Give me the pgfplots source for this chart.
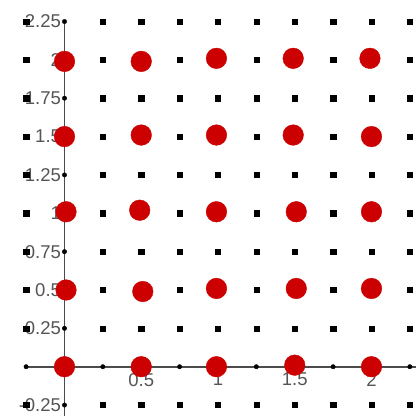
\documentclass[border=0pt]{standalone}
\usepackage{pgfplots}
\pgfplotsset{compat=1.18}
\usepackage{fontspec}
\setmainfont{Liberation Sans}
\definecolor{dotred}{RGB}{204,0,0}
\definecolor{axgray}{RGB}{75,75,75}
\definecolor{labgray}{RGB}{85,85,85}
\begin{document}
\begin{tikzpicture}
\begin{axis}[
  name=ax,
  scale only axis,
  width=389.6pt, height=394pt,
  xmin=-0.25, xmax=2.29,
  ymin=-0.32, ymax=2.25,
  clip=false,
  axis lines=middle,
  axis line style={-, axgray, line width=1.6pt},
  xtick={0.5,1,1.5,2},
  xticklabels={0.5,1,1.5,2},
  ytick={-0.25,0.25,0.5,0.75,1,1.25,1.5,1.75,2,2.25},
  yticklabels={-0.25,0.25,0.5,0.75,1,1.25,1.5,1.75,2,2.25},
  major tick length=0pt,
  tick label style={font=\fontsize{18.5}{20}\selectfont, text=labgray},
  xticklabel style={yshift=-3pt},
]
% grid dots off the axes
\addplot[only marks, mark=square*, mark size=2.6pt, black] coordinates {
(-0.25,-0.25)(0.25,-0.25)(0.5,-0.25)(0.75,-0.25)(1,-0.25)(1.25,-0.25)(1.5,-0.25)(1.75,-0.25)(2,-0.25)(2.25,-0.25)
(-0.25,0.25)(0.25,0.25)(0.5,0.25)(0.75,0.25)(1,0.25)(1.25,0.25)(1.5,0.25)(1.75,0.25)(2,0.25)(2.25,0.25)
(-0.25,0.5)(0.25,0.5)(0.5,0.5)(0.75,0.5)(1,0.5)(1.25,0.5)(1.5,0.5)(1.75,0.5)(2,0.5)(2.25,0.5)
(-0.25,0.75)(0.25,0.75)(0.5,0.75)(0.75,0.75)(1,0.75)(1.25,0.75)(1.5,0.75)(1.75,0.75)(2,0.75)(2.25,0.75)
(-0.25,1)(0.25,1)(0.5,1)(0.75,1)(1,1)(1.25,1)(1.5,1)(1.75,1)(2,1)(2.25,1)
(-0.25,1.25)(0.25,1.25)(0.5,1.25)(0.75,1.25)(1,1.25)(1.25,1.25)(1.5,1.25)(1.75,1.25)(2,1.25)(2.25,1.25)
(-0.25,1.5)(0.25,1.5)(0.5,1.5)(0.75,1.5)(1,1.5)(1.25,1.5)(1.5,1.5)(1.75,1.5)(2,1.5)(2.25,1.5)
(-0.25,1.75)(0.25,1.75)(0.5,1.75)(0.75,1.75)(1,1.75)(1.25,1.75)(1.5,1.75)(1.75,1.75)(2,1.75)(2.25,1.75)
(-0.25,2)(0.25,2)(0.5,2)(0.75,2)(1,2)(1.25,2)(1.5,2)(1.75,2)(2,2)(2.25,2)
(-0.25,2.25)(0.25,2.25)(0.5,2.25)(0.75,2.25)(1,2.25)(1.25,2.25)(1.5,2.25)(1.75,2.25)(2,2.25)(2.25,2.25)
};
% grid dots on the axes
\addplot[only marks, mark=*, mark size=2.2pt, black] coordinates {
(0,-0.25)(0,0)(0,0.25)(0,0.5)(0,0.75)(0,1)(0,1.25)(0,1.5)(0,1.75)(0,2)(0,2.25)
(-0.25,0)(0.25,0)(0.5,0)(0.75,0)(1,0)(1.25,0)(1.5,0)(1.75,0)(2,0)(2.25,0)
};
% red points
\addplot[only marks, mark=*, mark size=10.3pt, color=dotred] coordinates {
(0,0)(0.5,0)(0.99,0)(1.5,0.01)(2,0)
(0.01,0.5)(0.51,0.49)(0.99,0.51)(1.51,0.51)(2,0.51)
(0.01,1.01)(0.49,1.02)(0.99,1.01)(1.51,1.01)(2,1.01)
(0,1.5)(0.5,1.51)(0.99,1.51)(1.49,1.51)(2,1.5)
(0,1.99)(0.5,1.99)(0.99,2.01)(1.49,2.01)(1.99,2.01)
};
\end{axis}
\pgfresetboundingbox
\path[use as bounding box] ([xshift=-26.1pt]ax.south west) rectangle ([yshift=21.5pt]ax.north east);
\end{tikzpicture}
\end{document}
